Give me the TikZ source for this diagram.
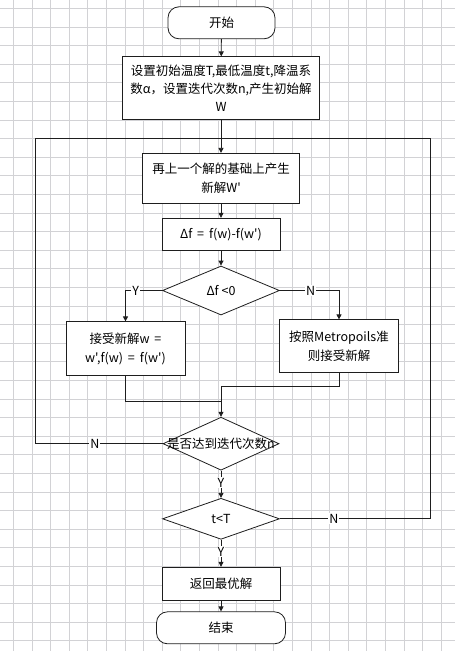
\documentclass[tikz,border=0pt]{standalone}
\usepackage{fontspec}
\usepackage{tikz}
\usetikzlibrary{positioning, arrows.meta, shapes.geometric, calc}
\newfontfamily\cjk{Noto Sans CJK SC}
\definecolor{gridGray}{RGB}{210, 210, 213}
\definecolor{lineDark}{RGB}{30, 30, 30}

\begin{document}
\begin{tikzpicture}[
    x=1pt, y=-1pt,
    font=\cjk\fontsize{12.5pt}{18.3pt}\selectfont,
    box/.style={rectangle, draw=lineDark, line width=0.8pt, fill=white, align=center, inner sep=2pt},
    term/.style={rectangle, rounded corners=11pt, draw=lineDark, line width=0.8pt, fill=white, align=center},
    dec/.style={diamond, draw=lineDark, line width=0.8pt, fill=white, inner sep=0pt, align=center},
    line/.style={draw=lineDark, line width=0.8pt},
    arr/.style={line, -{Triangle[length=5pt, width=5pt]}},
    yn/.style={fill=white, inner sep=1pt},
    gridline/.style={gridGray, line width=0.6pt}
]
\useasboundingbox (0,0) rectangle (455,651);
\fill[white] (0,0) rectangle (455,651);
% background grid
\foreach \i in {0,...,23} \draw[gridline] ({13.3+18.6*\i},0) -- ++(0,651);
\foreach \j in {0,...,34} \draw[gridline] (0,{8.3+18.6*\j}) -- ++(455,0);

\node[term, minimum width=107, minimum height=32] (start) at (221.5,22.8) {开始};
\node[box, minimum width=197, minimum height=63] (init) at (221,88.3)
    {设置初始温度T,最低温度t,降温系\\数α，设置迭代次数n,产生初始解\\W};
\node[box, minimum width=157, minimum height=50] (gen) at (221,178.3)
    {再上一个解的基础上产生\\新解W'};
\node[box, minimum width=118, minimum height=32] (delta) at (221,234.2) {Δf\ \,=\ \,f(w)-f(w')};
\node[dec, minimum width=117, minimum height=49] (d1) at (221,290.5) {Δf <0};
\node[box, minimum width=119, minimum height=54] (accept) at (125.5,348.8)
    {接受新解w\ \,=\\w',f(w)\ \,=\ \,f(w')};
\node[box, minimum width=119, minimum height=53] (metro) at (339,346.3)
    {按照Metropoils准\\则接受新解};
\node[dec, minimum width=116, minimum height=53, label={center:是否达到迭代次数n}] (d2) at (221,443.7) {};
\node[dec, minimum width=117, minimum height=41] (d3) at (221,518.8) {t<T};
\node[box, minimum width=118, minimum height=33] (ret) at (221,583.7) {返回最优解};
\node[term, minimum width=129, minimum height=32] (end) at (221,627.8) {结束};

\coordinate (loopjoin) at (221,138);
\coordinate (lside) at (35,0);
\coordinate (rside) at (430,0);
\coordinate (mergeL) at (221,401.7);
\coordinate (mergeR) at (221,386);

\draw[arr] (start) -- (init);
\draw[arr] (init) -- (gen);
\draw[arr] (gen) -- (delta);
\draw[arr] (delta) -- (d1);
\draw[arr] (d1.west) -| node[yn, pos=0.36] {Y} (accept.north);
\draw[arr] (d1.east) -| node[yn, pos=0.26] {N} (metro.north);
\draw[line] (accept.south) |- (mergeL);
\draw[arr] (metro.south) |- (mergeR) -- (d2.north);
\draw[line] (d2.west) -- node[yn, pos=0.53] {N} (d2.west -| lside) |- (loopjoin);
\draw[arr] (d2.south) -- node[yn, pos=0.45] {Y} (d3.north);
\draw[line] (d3.east) -- node[yn, pos=0.36] {N} (d3.east -| rside) |- (loopjoin);
\draw[arr] (d3.south) -- node[yn, pos=0.45] {Y} (ret.north);
\draw[arr] (ret) -- (end);
\end{tikzpicture}
\end{document}
